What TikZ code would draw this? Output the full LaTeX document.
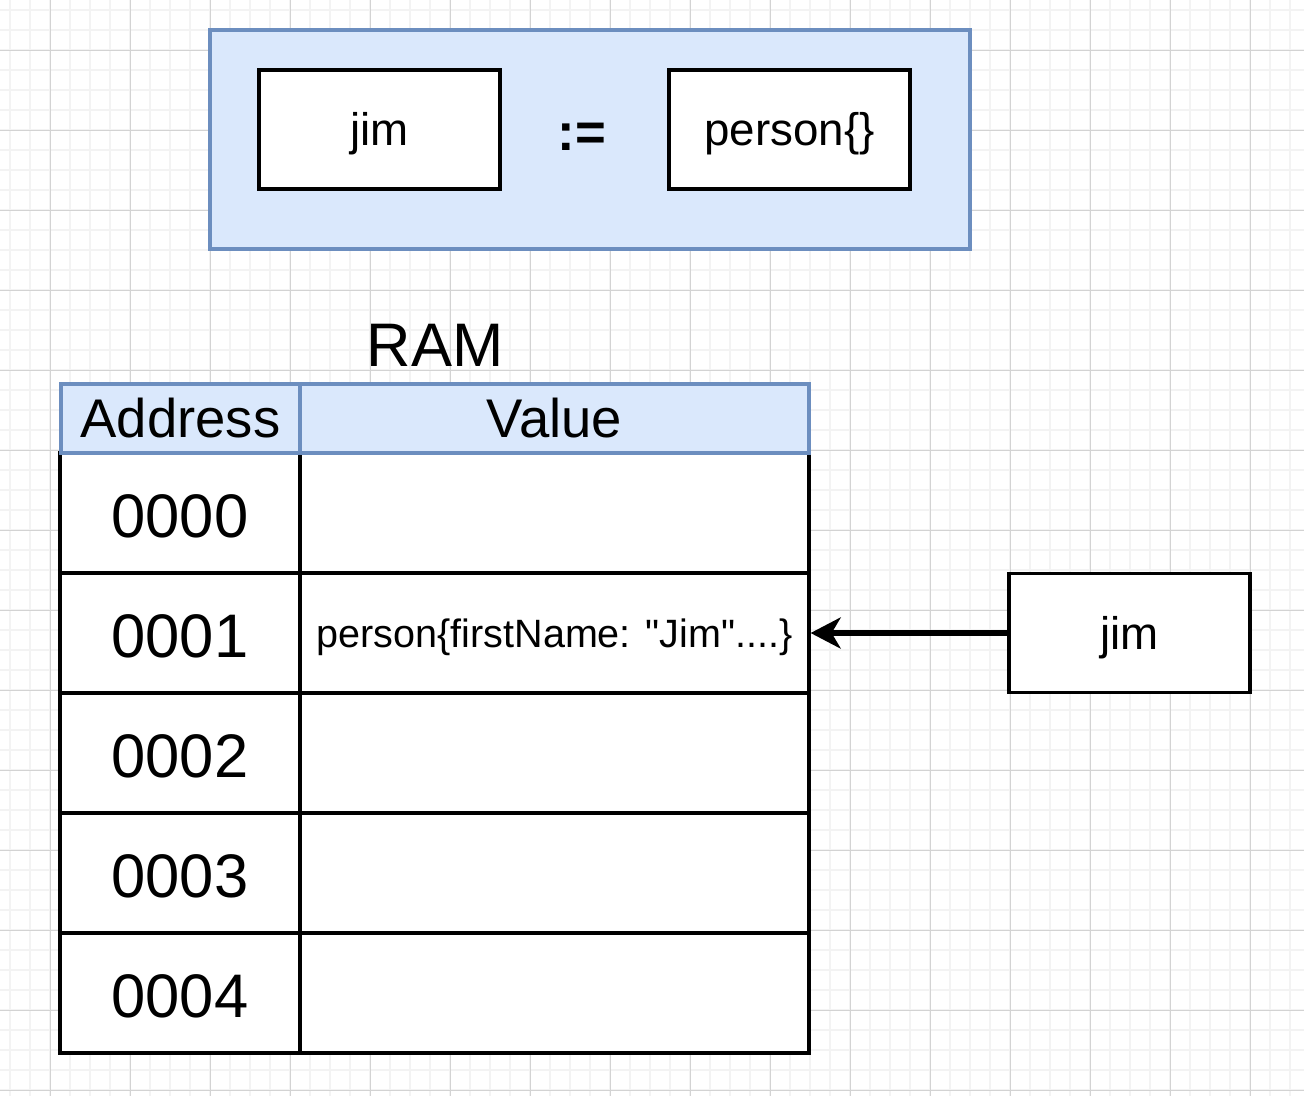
\documentclass[tikz,border=0pt]{standalone}
\usepackage{xcolor}
\usepackage{fontspec}
\setmainfont{Liberation Sans}
\usepackage{tikz}
\usetikzlibrary{arrows.meta}
\definecolor{cellblue}{HTML}{DAE8FC}
\definecolor{edgeblue}{HTML}{6C8EBF}
\definecolor{minorgrid}{HTML}{F3F3F3}
\definecolor{majorgrid}{HTML}{D3D3D3}
\newcommand{\straightquote}{\XeTeXglyph\XeTeXcharglyph"22\relax}
\tikzset{
  varbox/.style={draw=black, line width=1.9pt, fill=white, minimum width=4.82cm, minimum height=2.38cm, inner sep=0pt, text height=24pt, text depth=5.5pt, font=\fontsize{26}{30}\selectfont},
  addrcell/.style={draw=black, line width=1.9pt, fill=white, minimum width=4.8cm, minimum height=2.4cm, inner sep=0pt, text height=28.4pt, text depth=0pt, font=\fontsize{35}{40}\selectfont},
  valcell/.style={draw=black, line width=1.9pt, fill=white, minimum width=10.18cm, minimum height=2.4cm, inner sep=0pt, text height=21pt, text depth=4.7pt, font=\fontsize{22.5}{26}\selectfont},
  headcell/.style={draw=edgeblue, line width=1.9pt, fill=cellblue, minimum height=1.38cm, inner sep=0pt, font=\fontsize{31}{36}\selectfont},
  pointer/.style={line width=3.2pt, -{Stealth[length=0.6cm, width=0.62cm, inset=0.18cm]}}
}

\begin{document}
\begin{tikzpicture}[x=0.02cm, y=-0.02cm]
  \useasboundingbox (0,0) rectangle (1304,1096);
  \fill[white] (0,0) rectangle (1304,1096);

  % background grid
  \foreach \gx in {10,30,...,1300} \draw[minorgrid, line width=0.6pt] (\gx,0) -- (\gx,1096);
  \foreach \gy in {10,30,...,1090} \draw[minorgrid, line width=0.6pt] (0,\gy) -- (1304,\gy);
  \foreach \gx in {50,130,...,1290} \draw[majorgrid, line width=0.5pt] (\gx,0) -- (\gx,1096);
  \foreach \gy in {50,130,...,1090} \draw[majorgrid, line width=0.5pt] (0,\gy) -- (1304,\gy);

  % statement
  \node[draw=edgeblue, line width=1.9pt, fill=cellblue, minimum width=15.2cm, minimum height=4.38cm] (stmt) at (590,139.5) {};
  \node[varbox] (lhs) at (379.5,129.5) {jim};
  \node[varbox] (rhs) at (789.5,129.5) {person\{\}};
  \node[font=\fontsize{30}{34}\selectfont\bfseries] (assign) at (582,137) {:=};

  % memory table
  \node[font=\fontsize{35}{40}\selectfont, inner sep=0pt] (ram) at (435,345) {RAM};
  \foreach \i/\yy in {0/513,1/633,2/753,3/873,4/993} {
    \node[addrcell] (addr\i) at (180,\yy) {000\i};
    \node[valcell] (val\i) at (554.5,\yy) {};
  }
  \node[valcell] at (val1) {person\{firstName: \straightquote Jim\straightquote....\}};
  \node[headcell, minimum width=4.78cm] (addrhead) at (180.5,418.5) {Address};
  \node[headcell, minimum width=10.18cm] (valhead) at (554.5,418.5) {Value};

  % pointer
  \node[varbox] (ptr) at (1129.5,633) {jim};
  \draw[pointer] (ptr.west) -- (val1.east);
\end{tikzpicture}
\end{document}
